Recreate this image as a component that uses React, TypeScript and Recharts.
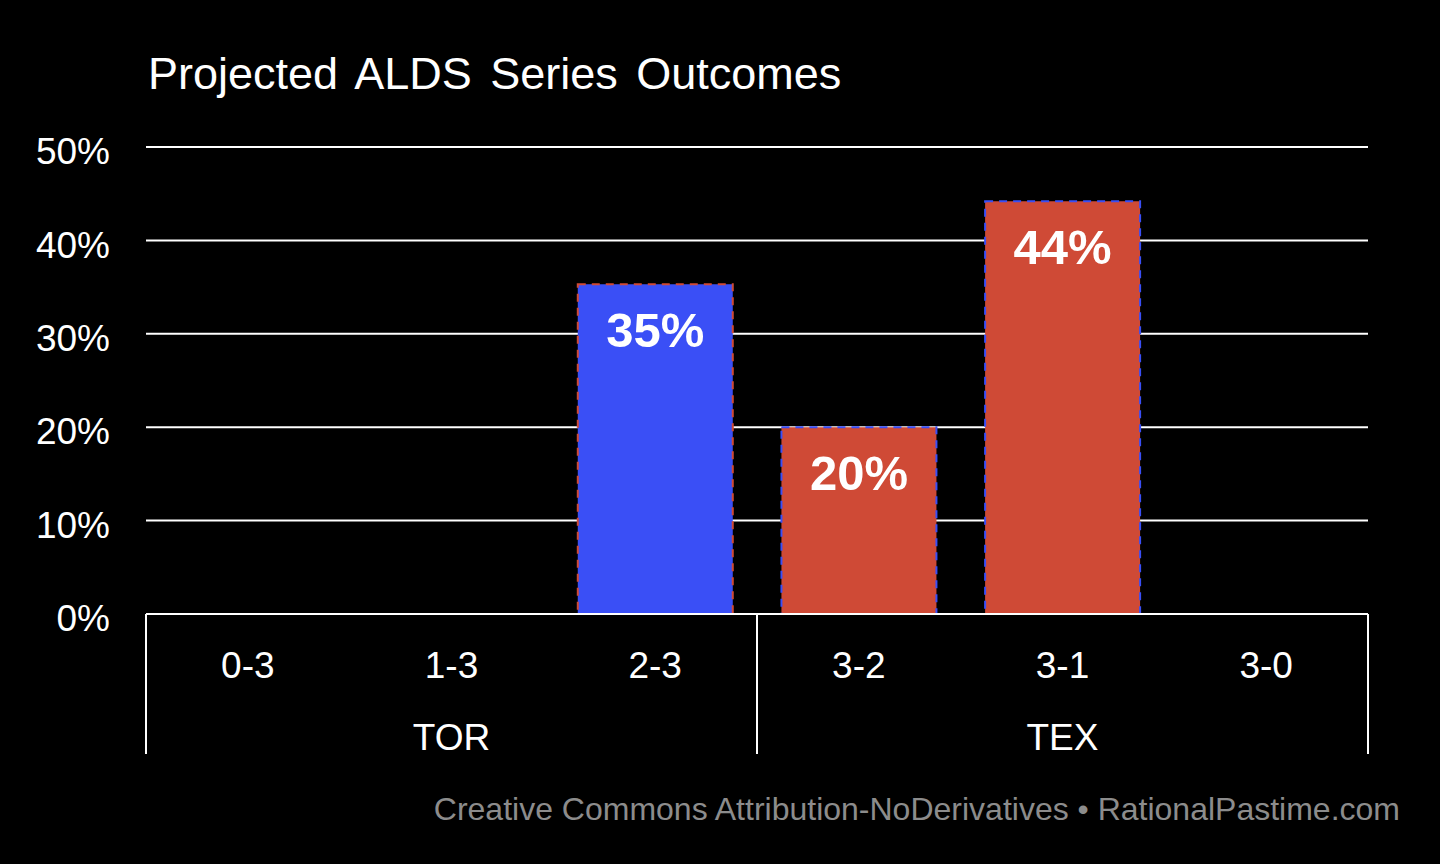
import { Bar, BarChart, CartesianGrid, Cell, LabelList, XAxis, YAxis } from "recharts";

const categories = ["0-3", "1-3", "2-3", "3-2", "3-1", "3-0"];
const teams = ["TOR", "TOR", "TOR", "TEX", "TEX", "TEX"];
const outcomePct = [0, 0, 35.3, 20.0, 44.2, 0];
const yTicks = [0, 10, 20, 30, 40, 50];

const BLUE = "#3a4ff6";
const RED = "#cf4a36";
const FONT = "'Liberation Sans', Arial, Helvetica, sans-serif";

const CHART_W = 1440;
const CHART_H = 864;
const X_AXIS_H = 30;
const margin = { top: 147, right: 72, bottom: 250 - X_AXIS_H, left: 0 };
const Y_AXIS_W = 146;
const plotW = CHART_W - margin.left - margin.right - Y_AXIS_W;
const band = plotW / categories.length;

const data = categories.map((cat, i) => ({ cat, team: teams[i], value: outcomePct[i] }));

function CategoryTick(props: any) {
  const { x, y, index, payload } = props;
  const i = index ?? categories.indexOf(payload.value);
  const left = x - band / 2;
  const right = x + band / 2;
  const groupEnd = i === categories.length - 1 || teams[i] !== teams[i + 1];
  // the team label sits under the middle category of its run
  const run = teams.map((t, k) => (t === teams[i] ? k : -1)).filter((k) => k >= 0);
  const showGroup = run[Math.floor(run.length / 2)] === i;
  return (
    <g>
      <text x={x} y={y + 64} textAnchor="middle" fill="#ffffff" fontSize={37} fontFamily={FONT}>
        {payload.value}
      </text>
      {showGroup && (
        <text x={x} y={y + 136} textAnchor="middle" fill="#ffffff" fontSize={37} fontFamily={FONT}>
          {teams[i]}
        </text>
      )}
      {i === 0 && <line x1={left} x2={left} y1={y} y2={y + 140} stroke="#ffffff" strokeWidth={2} />}
      {groupEnd && <line x1={right} x2={right} y1={y} y2={y + 140} stroke="#ffffff" strokeWidth={2} />}
    </g>
  );
}

function ValueLabel(props: any) {
  const { x, y, width, value } = props;
  if (!value) return null;
  return (
    <text
      x={x + width / 2}
      y={y + 63}
      textAnchor="middle"
      fill="#ffffff"
      fontSize={49}
      fontWeight="bold"
      fontFamily={FONT}
    >
      {Math.round(value)}%
    </text>
  );
}

export default function App() {
  return (
    <div
      style={{
        position: "fixed",
        top: 0,
        left: 0,
        width: CHART_W,
        height: CHART_H,
        background: "#000000",
        fontFamily: FONT,
      }}
    >
      <div
        style={{
          position: "absolute",
          left: 148,
          top: 48,
          color: "#ffffff",
          fontSize: 45,
          whiteSpace: "nowrap",
          wordSpacing: 6,
        }}
      >
        Projected ALDS Series Outcomes
      </div>
      <BarChart width={CHART_W} height={CHART_H} data={data} margin={margin} barCategoryGap="12%">
        <CartesianGrid horizontal vertical={false} stroke="#ffffff" strokeWidth={2} />
        <YAxis
          type="number"
          domain={[0, 50]}
          ticks={yTicks}
          width={Y_AXIS_W}
          axisLine={false}
          tickLine={false}
          tickSize={0}
          tickMargin={36}
          tickFormatter={(v: number) => `${v}%`}
          tick={{ fill: "#ffffff", fontSize: 37, fontFamily: FONT, dy: 4 }}
        />
        <XAxis
          dataKey="cat"
          height={X_AXIS_H}
          axisLine={{ stroke: "#ffffff", strokeWidth: 2 }}
          tickLine={false}
          tickSize={0}
          tickMargin={0}
          interval={0}
          tick={<CategoryTick />}
        />
        <Bar dataKey="value" isAnimationActive={false}>
          {data.map((d) => (
            <Cell
              key={d.cat}
              fill={d.team === "TOR" ? BLUE : RED}
              stroke={d.team === "TOR" ? RED : BLUE}
              strokeWidth={2}
              strokeDasharray="8 6"
            />
          ))}
          <LabelList dataKey="value" content={<ValueLabel />} />
        </Bar>
      </BarChart>
      <div
        style={{
          position: "absolute",
          right: 40,
          top: 791,
          color: "#8c8c8c",
          fontSize: 32,
          whiteSpace: "nowrap",
        }}
      >
        Creative Commons Attribution-NoDerivatives • RationalPastime.com
      </div>
    </div>
  );
}
